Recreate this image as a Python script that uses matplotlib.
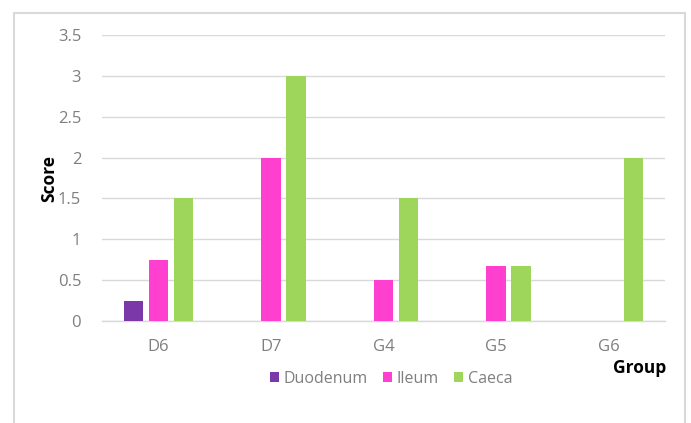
import matplotlib.pyplot as plt
from matplotlib.patches import Rectangle
import numpy as np

# data
groups = ['D6', 'D7', 'G4', 'G5', 'G6']
duodenum = [0.25, 0, 0, 0, 0]
ileum = [0.75, 2, 0.5, 0.667, 0]
caeca = [1.5, 3, 1.5, 0.667, 2]
series_names = ['Duodenum', 'Ileum', 'Caeca']
colors = ['#7B38A8', '#FF3FCF', '#9DD65A']

plt.rcParams['font.family'] = ['Open Sans', 'DejaVu Sans']

fig = plt.figure(figsize=(6.91, 4.23), dpi=100)
W, H = 691, 423
ax = fig.add_axes([102 / W, 1 - 321 / H, (665 - 102) / W, (321 - 35) / H])

# outer chart border (light gray, open at bottom)
fig.patches.append(Rectangle((14 / W, -0.05), (685 - 14) / W, 1 - 13 / H + 0.05,
                             transform=fig.transFigure, fill=False,
                             edgecolor='#d9d9d9', linewidth=1.5))

x = np.arange(len(groups))
width = 0.173
offset = 0.222
for i, (vals, name, c) in enumerate(zip([duodenum, ileum, caeca], series_names, colors)):
    ax.bar(x + (i - 1) * offset, vals, width, color=c, label=name, zorder=3)

ax.set_xlim(-0.5, len(groups) - 0.5)
ax.set_ylim(0, 3.5)
ax.set_yticks(np.arange(0, 3.51, 0.5))
ax.set_yticklabels(['0', '0.5', '1', '1.5', '2', '2.5', '3', '3.5'])
ax.set_xticks(x)
ax.set_xticklabels(groups)
ax.tick_params(axis='both', length=0, labelsize=12, labelcolor='#7f7f7f')
ax.tick_params(axis='y', pad=15)
ax.tick_params(axis='x', pad=13)
ax.yaxis.grid(True, color='#d9d9d9', linewidth=1, zorder=0)
for s in ['top', 'right', 'left']:
    ax.spines[s].set_visible(False)
ax.spines['bottom'].set_color('#d9d9d9')
ax.spines['bottom'].set_linewidth(1)

fig.text(49 / W, 1 - 178 / H, 'Score', rotation=90, ha='center', va='center',
         fontsize=12.5, fontweight='bold', color='black')
fig.text(666 / W, 1 - 368 / H, 'Group', ha='right', va='center',
         fontsize=12.5, fontweight='bold', color='black')

leg = fig.legend(loc='center', bbox_to_anchor=(391 / W, 1 - 379 / H), ncol=3,
                 frameon=False, fontsize=11.5, handlelength=0.6, handleheight=0.6,
                 handletextpad=0.3, columnspacing=0.9)
for t in leg.get_texts():
    t.set_color('#7f7f7f')

fig.savefig('out.png', dpi=100)
